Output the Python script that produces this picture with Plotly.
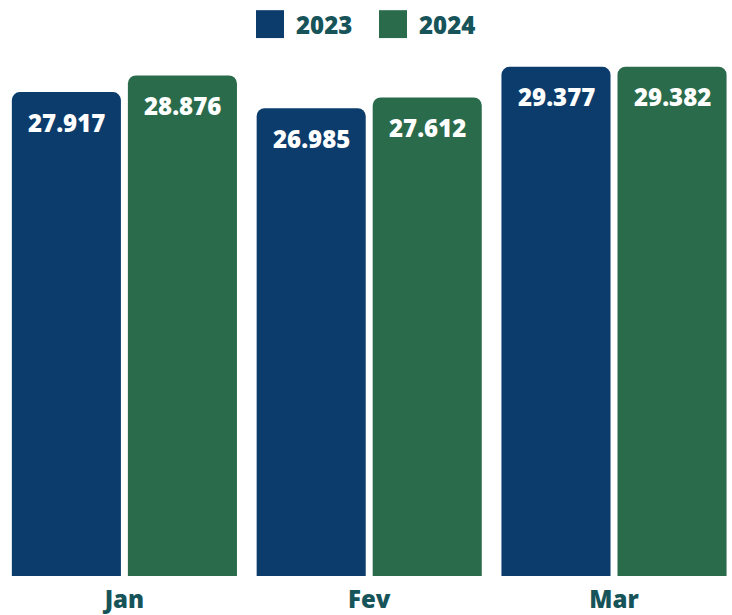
import plotly.graph_objects as go

months = ["Jan", "Fev", "Mar"]
series_names = ["2023", "2024"]
values_2023 = [27917, 26985, 29377]
values_2024 = [28876, 27612, 29382]

colors = {"2023": "#0B3C6B", "2024": "#2A6B4B"}
text_color = "#16545A"
font_family = "Open Sans"
heavy = 800

W, H = 732, 615
margin = dict(l=2, r=0, t=56, b=37)
plot_w = W - margin["l"] - margin["r"]
plot_h = H - margin["t"] - margin["b"]


def fmt(v):
    return f"{v:,}".replace(",", ".")


def px_x(px):
    return (px - margin["l"]) / plot_w


def px_y(py):
    return (H - margin["b"] - py) / plot_h


fig = go.Figure()
for name, vals in zip(series_names, [values_2023, values_2024]):
    fig.add_trace(go.Bar(
        x=months,
        y=vals,
        name=name,
        marker=dict(color=colors[name], cornerradius=8, line=dict(width=0)),
        showlegend=False,
        hoverinfo="x+y+name",
    ))

annotations = []
for i, vals in enumerate([values_2023, values_2024]):
    shift = -58 if i == 0 else 58
    for m, v in zip(months, vals):
        annotations.append(dict(
            x=m, y=v, xref="x", yref="y",
            text=fmt(v),
            showarrow=False,
            xshift=shift, yshift=-30,
            yanchor="middle",
            font=dict(family=font_family, size=24, color="white", weight=heavy),
        ))

# legend drawn by hand so the swatches can be large squares
shapes = []
legend_pos = [(256, 294), (379, 417)]
for name, (sq_x, txt_x) in zip(series_names, legend_pos):
    shapes.append(dict(
        type="rect", xref="paper", yref="paper",
        x0=px_x(sq_x), x1=px_x(sq_x + 28),
        y0=px_y(38), y1=px_y(10),
        fillcolor=colors[name], line=dict(width=0),
    ))
    annotations.append(dict(
        x=px_x(txt_x), y=px_y(24), xref="paper", yref="paper",
        xanchor="left", yanchor="middle",
        text=name, showarrow=False,
        font=dict(family=font_family, size=24, color=text_color, weight=heavy),
    ))

fig.update_layout(
    width=W, height=H,
    margin=margin,
    paper_bgcolor="white",
    plot_bgcolor="white",
    barmode="group",
    bargap=0.052,
    bargroupgap=0.06,
    annotations=annotations,
    shapes=shapes,
    font=dict(family=font_family),
    xaxis=dict(
        range=[-0.5, 2.482],
        showgrid=False, zeroline=False, showline=False,
        tickfont=dict(family=font_family, size=24, color=text_color, weight=heavy),
        ticks="",
        ticklabelstandoff=7,
    ),
    yaxis=dict(
        range=[0, 30000],
        visible=False,
    ),
)

fig.write_html(
    "out.html",
    config={"displayModeBar": False},
    post_script="document.body.style.margin='0';",
)
